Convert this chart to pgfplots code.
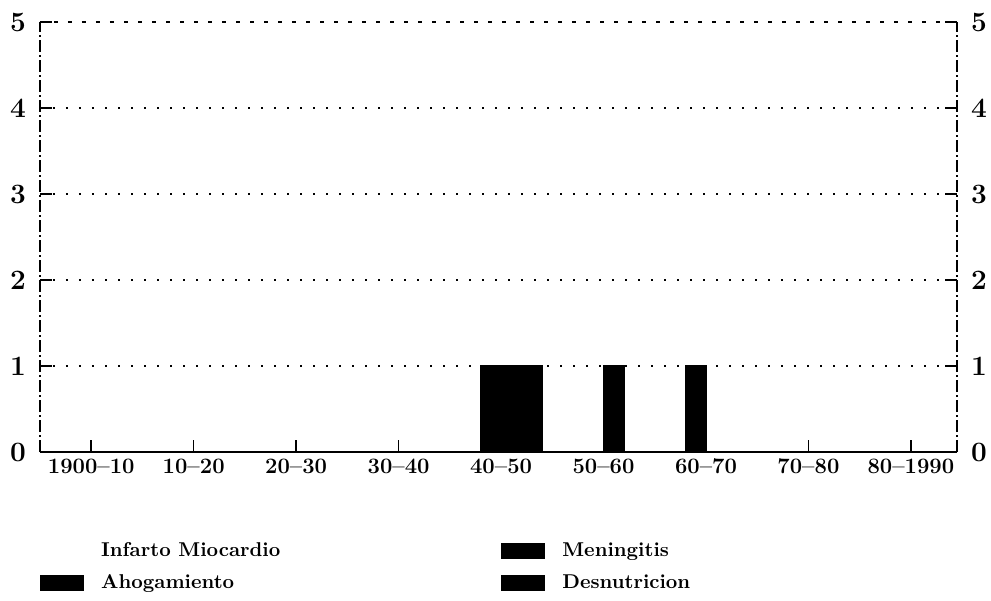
\documentclass[border=0pt]{standalone}
\usepackage{pgfplots}
\pgfplotsset{compat=1.18}
\begin{document}
\begin{tikzpicture}
\useasboundingbox (-20pt,-74pt) rectangle (475.5pt,226pt);
\begin{axis}[
  at={(0pt,0pt)}, anchor=south west,
  scale only axis, width=458.5pt, height=215pt,
  xmin=-0.5, xmax=8.45, ymin=0, ymax=5,
  ybar=0pt, bar width=0.2,
  xtick={0,...,8},
  xticklabels={1900--10,10--20,20--30,30--40,40--50,50--60,60--70,70--80,80--1990},
  ytick={0,5},
  extra y ticks={1,2,3,4},
  extra y tick style={grid=major},
  grid style={black, line width=1pt, dash pattern=on 1pt off 5.5pt},
  axis line style={draw=none},
  xtick pos=bottom, ytick pos=left, tick align=inside,
  major tick length=6pt,
  tick style={black, line width=0.8pt},
  x tick label style={font=\fontsize{11}{13}\selectfont\bfseries},
  y tick label style={font=\fontsize{14}{16}\selectfont\bfseries, xshift=-3.5pt},
  /pgf/number format/assume math mode=true,
  legend columns=2,
  legend cell align=left,
  legend style={at={(axis description cs:0,0)}, anchor=north west, yshift=-45pt,
    draw=none, fill=none, inner sep=0pt, outer sep=0pt, row sep=7pt,
    nodes={inner sep=0pt, text height=7pt, text depth=2pt, font=\fontsize{10}{12}\selectfont\bfseries},
    /tikz/every odd column/.append style={column sep=8.5pt}},
  legend image code/.code={\fill[#1] (0pt,-3.5pt) rectangle (21.5pt,3.5pt);},
  clip=false,
]
\addplot[fill=white, draw=none] coordinates {(0,0) (1,0) (2,0) (3,0) (4,0) (5,0) (6,0) (7,0) (8,0)};
\addlegendentry{\makebox[200pt][l]{Infarto Miocardio}}
\addplot[fill=black, draw=black, line width=0.6pt] coordinates {(0,0) (1,0) (2,0) (3,0) (4,1) (5,0) (6,1) (7,0) (8,0)};
\addlegendentry{Meningitis}
\addplot[fill=black, draw=black, line width=0.6pt] coordinates {(0,0) (1,0) (2,0) (3,0) (4,1) (5,1) (6,0) (7,0) (8,0)};
\addlegendentry{\makebox[200pt][l]{Ahogamiento}}
\addplot[fill=black, draw=black, line width=0.6pt] coordinates {(0,0) (1,0) (2,0) (3,0) (4,1) (5,0) (6,0) (7,0) (8,0)};
\addlegendentry{Desnutricion}
\draw[line width=1.2pt] (rel axis cs:0,0) -- (rel axis cs:1,0);
\draw[line width=0.8pt, dash pattern=on 6pt off 1.5pt on 1pt off 1.5pt] (rel axis cs:0,0) -- (rel axis cs:0,1);
\draw[line width=0.8pt, dash pattern=on 6pt off 1.5pt on 1pt off 1.5pt] (rel axis cs:1,0) -- (rel axis cs:1,1);
\draw[line width=0.8pt, dash pattern=on 2pt off 5pt] (rel axis cs:0,1) -- (rel axis cs:1,1);
\end{axis}
\begin{axis}[
  at={(0pt,0pt)}, anchor=south west,
  scale only axis, width=458.5pt, height=215pt,
  xmin=-0.5, xmax=8.45, ymin=0, ymax=5,
  axis x line=none, axis y line*=right, axis line style={draw=none},
  ytick={0,...,5}, tick align=inside, major tick length=6pt,
  tick style={black, line width=0.8pt},
  y tick label style={font=\fontsize{14}{16}\selectfont\bfseries, xshift=3.5pt},
  /pgf/number format/assume math mode=true,
]
\end{axis}
\end{tikzpicture}
\end{document}
